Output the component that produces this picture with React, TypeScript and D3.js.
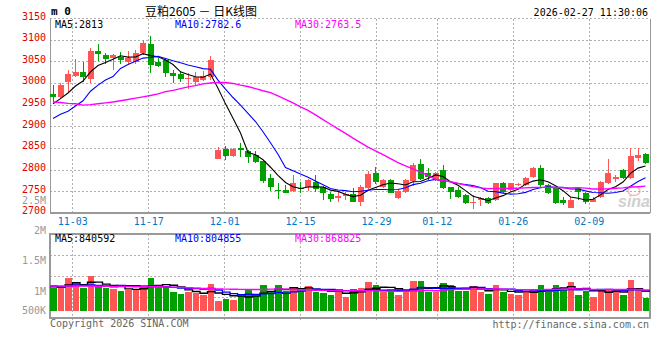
import React from 'react';
import * as d3 from 'd3';

// 80 trading days, m0 daily K
const dates = [
  "10-29","10-30","10-31",
  "11-03","11-04","11-05","11-06","11-07","11-10","11-11","11-12","11-13","11-14",
  "11-17","11-18","11-19","11-20","11-21","11-24","11-25","11-26","11-27","11-28",
  "12-01","12-02","12-03","12-04","12-05","12-08","12-09","12-10","12-11","12-12",
  "12-15","12-16","12-17","12-18","12-19","12-22","12-23","12-24","12-25","12-26",
  "12-29","12-30","12-31",
  "01-05","01-06","01-07","01-08","01-09",
  "01-12","01-13","01-14","01-15","01-16","01-19","01-20","01-21","01-22","01-23",
  "01-26","01-27","01-28","01-29","01-30","02-02","02-03","02-04","02-05","02-06",
  "02-09","02-10","02-11","02-12","02-13","02-24","02-25","02-26","02-27",
];

const opens = [
  2975, 2969, 3004, 3018, 3027, 3011, 3074, 3065, 3058, 3061,
  3050, 3050, 3071, 3091, 3050, 3054, 3024, 3021, 3011, 3004,
  3009, 3015, 2826, 2848, 2832, 2850, 2843, 2834, 2821, 2781,
  2754, 2754, 2751, 2758, 2760, 2773, 2761, 2745, 2735, 2739,
  2744, 2727, 2759, 2792, 2760, 2777, 2736, 2750, 2775, 2813,
  2792, 2777, 2800, 2760, 2754, 2742, 2723, 2731, 2735, 2731,
  2771, 2754, 2767, 2765, 2783, 2805, 2765, 2758, 2731, 2713,
  2758, 2746, 2727, 2737, 2769, 2779, 2800, 2781, 2827, 2838,
];
const highs = [
  2997, 3000, 3032, 3057, 3050, 3082, 3091, 3070, 3069, 3073,
  3074, 3077, 3101, 3109, 3058, 3058, 3031, 3027, 3023, 3027,
  3029, 3063, 2854, 2855, 2850, 2862, 2847, 2845, 2822, 2791,
  2769, 2765, 2788, 2773, 2779, 2788, 2763, 2749, 2752, 2750,
  2758, 2765, 2797, 2806, 2779, 2779, 2753, 2779, 2817, 2826,
  2804, 2796, 2812, 2760, 2761, 2745, 2742, 2737, 2738, 2770,
  2772, 2771, 2770, 2785, 2808, 2812, 2767, 2760, 2737, 2737,
  2761, 2750, 2738, 2775, 2825, 2788, 2803, 2850, 2850, 2840,
];
const lows = [
  2958, 2964, 2977, 3016, 3004, 3002, 3051, 3045, 3031, 3044,
  3042, 3046, 3065, 3024, 3037, 3015, 3000, 3004, 2988, 2994,
  3006, 3008, 2825, 2823, 2830, 2829, 2817, 2817, 2770, 2752,
  2733, 2746, 2750, 2748, 2751, 2750, 2730, 2727, 2727, 2730,
  2725, 2718, 2757, 2768, 2758, 2746, 2734, 2748, 2764, 2776,
  2777, 2775, 2757, 2734, 2735, 2721, 2711, 2716, 2721, 2729,
  2747, 2752, 2762, 2764, 2782, 2760, 2745, 2721, 2719, 2713,
  2731, 2722, 2725, 2735, 2768, 2772, 2779, 2779, 2821, 2815,
];
const closes = [
  2969, 2996, 3021, 3027, 3015, 3074, 3069, 3056, 3065, 3055,
  3059, 3071, 3094, 3042, 3041, 3023, 3018, 3010, 3012, 3014,
  3017, 3055, 2846, 2832, 2848, 2846, 2831, 2819, 2775, 2761,
  2753, 2748, 2769, 2756, 2777, 2755, 2746, 2734, 2741, 2745,
  2727, 2761, 2791, 2773, 2777, 2748, 2752, 2777, 2811, 2779,
  2784, 2792, 2759, 2750, 2738, 2723, 2727, 2735, 2723, 2769,
  2750, 2769, 2768, 2781, 2804, 2765, 2746, 2723, 2723, 2731,
  2750, 2727, 2732, 2773, 2792, 2783, 2781, 2832, 2834, 2817,
];
const volumes = [
  932000, 973000, 1360000, 1181000, 944000, 1444000, 1015000, 944000, 903000, 820000,
  861000, 903000, 1069000, 1360000, 1069000, 1015000, 778000, 695000, 778000, 724000,
  666000, 1111000, 404000, 487000, 445000, 612000, 903000, 612000, 1069000, 832000,
  1069000, 832000, 986000, 832000, 1028000, 790000, 749000, 653000, 861000, 570000,
  903000, 944000, 1194000, 1069000, 778000, 861000, 653000, 778000, 1236000, 1236000,
  778000, 778000, 1152000, 1069000, 820000, 820000, 1028000, 778000, 695000, 1069000,
  778000, 695000, 653000, 778000, 903000, 1069000, 778000, 1069000, 903000, 1194000,
  653000, 820000, 570000, 903000, 903000, 861000, 653000, 1277000, 861000, 528000,
];

// averages before the window is full
const ma5Head = [2953, 2965, 2978, 2994];
const ma10Head = [2919, 2929, 2936, 2948, 2960, 2982, 2996, 3008, 3016];
const ma30Head = [
  2957, 2956, 2954, 2953, 2950, 2951, 2953, 2955, 2957, 2960,
  2963, 2966, 2969, 2972, 2976, 2981, 2984, 2988, 2992, 2995,
  2999, 3001, 3002, 3002, 3000, 2996, 2993, 2988, 2983,
];
const volMa5Head = [998000, 973000, 1069000, 1165000];
const volMa10Head = [1027000, 998000, 1027000, 1069000, 1048000, 1069000, 1048000, 1027000, 998000];
const volMa30Head = [
  1027000, 1027000, 1027000, 1027000, 1027000, 1027000, 1020000, 1015000, 1010000, 1005000,
  1000000, 998000, 998000, 998000, 995000, 990000, 980000, 970000, 955000, 940000,
  930000, 915000, 905000, 898000, 892000, 888000, 885000, 884000, 885000,
];

const dateTicks = ["11-03", "11-17", "12-01", "12-15", "12-29", "01-12", "01-26", "02-09"];
const priceTicks = [2700, 2750, 2800, 2850, 2900, 2950, 3000, 3050, 3100, 3150];
const volTickValues = [500000, 1000000, 1500000, 2000000, 2500000];
const volTickLabels = ["500K", "1M", "1.5M", "2M", "2.5M"];
const priceLegend = ["MA5:2813", "MA10:2782.6", "MA30:2763.5"];
const volLegend = ["MA5:840592", "MA10:804855", "MA30:868825"];
const maColors = ["#000000", "#0000ff", "#ff00ff"];

const UP = "#ff5555";
const DOWN = "#00a000";
const MONO = "'DejaVu Sans Mono', monospace";

const movingAvg = (vals: number[], n: number, head: number[]) =>
  vals.map((v, i) => (i < n - 1 ? head[i] : (d3.mean(vals.slice(i - n + 1, i + 1)) as number)));

export default function App() {
  const N = closes.length;
  const left = 50, right = 650;
  const top = 18.5, bottom = 213.3;
  const vTop = 234, vBottom = 318;

  const x = d3.scaleBand<number>().domain(d3.range(N)).range([left, right]);
  const xGrid = d3.scaleLinear().domain([0, N - 1]).range([left, right]);
  const y = d3.scaleLinear().domain([2700, 3150]).range([bottom, top]);
  const yVol = d3.scaleLinear().domain([0, 1000000]).range([310.7, 286.66]);
  const yVolLabel = d3.scaleLinear().domain([1000000, 2000000]).range([291, 230.7]);

  const bodyW = 6;
  const cx = (i: number) => (x(i) as number) + 3;

  const ma = [movingAvg(closes, 5, ma5Head), movingAvg(closes, 10, ma10Head), movingAvg(closes, 30, ma30Head)];
  const vma = [movingAvg(volumes, 5, volMa5Head), movingAvg(volumes, 10, volMa10Head), movingAvg(volumes, 30, volMa30Head)];

  const priceLine = d3.line<number>().x((_, i) => cx(i)).y(d => y(d));
  const stepLine = d3.line<[number, number]>();
  const stepPath = (vals: number[]) =>
    stepLine(vals.flatMap((v, i) => [[x(i) as number, yVol(v)], [(x(i) as number) + x.step(), yVol(v)]] as [number, number][]));

  const tickIdx = dateTicks.map(t => dates.indexOf(t));
  const vGridYs = [1, 2, 3].map(k => vTop + (k * (vBottom - vTop)) / 4);

  return (
    <svg width={660} height={360} style={{ display: 'block', background: '#fff' }}>
      <style>{`body{margin:0}`}</style>

      {/* price grid */}
      <g stroke="#b0b0b0" strokeDasharray="2,2" shapeRendering="crispEdges">
        {priceTicks.slice(1).map(t => (
          <line key={t} x1={left} x2={right} y1={y(t)} y2={y(t)} />
        ))}
        {tickIdx.map(i => (
          <line key={i} x1={xGrid(i)} x2={xGrid(i)} y1={top} y2={bottom} />
        ))}
        {vGridYs.map(v => (
          <line key={v} x1={left} x2={right} y1={v} y2={v} />
        ))}
        {tickIdx.map(i => (
          <line key={'v' + i} x1={xGrid(i)} x2={xGrid(i)} y1={vTop} y2={vBottom + 2} />
        ))}
      </g>

      {/* frames */}
      <g stroke="#999" fill="none" shapeRendering="crispEdges">
        <line x1={left} x2={left} y1={top} y2={bottom} />
        <line x1={right} x2={right} y1={top} y2={bottom} />
        <line x1={left} x2={right} y1={bottom} y2={bottom} strokeWidth={2} />
        <rect x={left} y={vTop} width={right - left} height={vBottom - vTop} strokeWidth={1.5} />
      </g>

      {/* watermark */}
      <g opacity={0.55}>
        <ellipse cx={634} cy={191} rx={6} ry={4.5} fill="none" stroke="#f08080" strokeWidth={1.5} />
        <text x={650} y={207} textAnchor="end" fontFamily="Arial, 'Liberation Sans', sans-serif" fontStyle="italic" fontWeight="bold" fontSize={16} fill="#aaa">sina</text>
      </g>

      {/* candles */}
      <g shapeRendering="crispEdges">
        {closes.map((c, i) => {
          const o = opens[i];
          const col = c >= o ? UP : DOWN;
          const yt = y(Math.max(o, c));
          const h = Math.max(1, y(Math.min(o, c)) - yt);
          return (
            <g key={i}>
              <line x1={cx(i)} x2={cx(i)} y1={y(highs[i])} y2={y(lows[i])} stroke={col} />
              <rect x={x(i)} y={yt} width={bodyW} height={h} fill={col} />
            </g>
          );
        })}
      </g>

      {/* price MAs */}
      {ma.map((m, k) => (
        <path key={k} d={priceLine(m) as string} fill="none" stroke={maColors[k]} strokeWidth={k === 2 ? 1.4 : 1.1} />
      ))}

      {/* volume bars */}
      <g shapeRendering="crispEdges">
        {volumes.map((v, i) => (
          <rect key={i} x={x(i)} y={yVol(v)} width={x.step() - 0.8} height={yVol(0) - yVol(v)}
            fill={closes[i] >= opens[i] ? UP : DOWN} />
        ))}
      </g>
      {vma.map((m, k) => (
        <path key={k} d={stepPath(m) as string} fill="none" stroke={maColors[k]} strokeWidth={1.4} />
      ))}

      {/* texts */}
      <g fontFamily={MONO} fontSize={10} dominantBaseline="central">
        <text x={51} y={11} fontWeight="bold" fontSize={11} fill="#000">m 0</text>
        <text x={648} y={12.5} textAnchor="end" fill="#000">2026-02-27 11:30:06</text>
        {priceTicks.map(t => (
          <text key={t} x={46} y={y(t) - 2.5} textAnchor="end" fill="#e00000">{t}</text>
        ))}
        {priceLegend.map((s, k) => (
          <text key={s} x={55 + k * 120} y={24.5} fill={maColors[k]}>{s}</text>
        ))}
        {tickIdx.map((i, k) => (
          <text key={i} x={xGrid(i)} y={221.5} textAnchor="middle" fill="#0078c8">{dateTicks[k]}</text>
        ))}
        {volTickValues.map((v, k) => (
          <text key={v} x={46} y={Math.min(yVolLabel(v), 310.7)} textAnchor="end" fill="#999">{volTickLabels[k]}</text>
        ))}
        {volLegend.map((s, k) => (
          <text key={s} x={55 + k * 120} y={238.5} fill={maColors[k]}>{s}</text>
        ))}
        <text x={50} y={323.5} fill="#666">Copyright 2026 SINA.COM</text>
        <text x={649} y={324} textAnchor="end" fill="#666">http://finance.sina.com.cn</text>
      </g>
      <text x={201} y={10} textAnchor="middle" dominantBaseline="central"
        fontFamily="'Noto Sans CJK SC', sans-serif" fontSize={12} fill="#000">豆粕2605 － 日K线图</text>
    </svg>
  );
}
